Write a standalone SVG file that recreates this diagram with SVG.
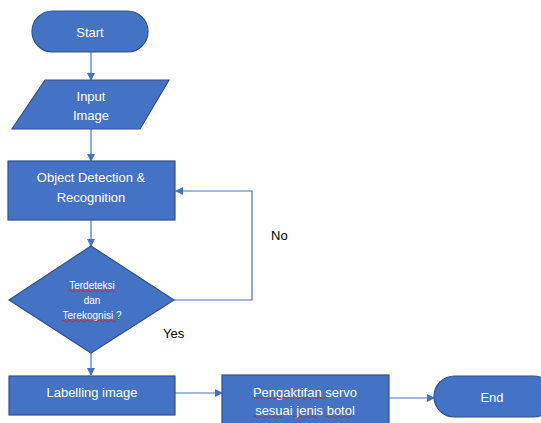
<svg xmlns="http://www.w3.org/2000/svg" width="541" height="423" viewBox="0 0 541 423">
<defs>
<marker id="ah" markerWidth="8" markerHeight="8" refX="7" refY="4" orient="auto" markerUnits="userSpaceOnUse">
<path d="M0,0 L8,4 L0,8 Z" fill="#4472C4"/>
</marker>
<style>
.n{fill:#4472C4;stroke:#2F528F;stroke-width:1.2}
.t{fill:#fff;font-family:"Liberation Sans",Arial,sans-serif;font-size:13px;text-anchor:middle;dominant-baseline:central}
.s{font-size:10px}
.c{fill:none;stroke:#4472C4;stroke-width:1.2}
.l{fill:#000;font-family:"Liberation Sans",Arial,sans-serif;font-size:13px;dominant-baseline:central}
.w{fill:none;stroke:#D02020;stroke-width:0.8}
</style>
</defs>
<rect width="541" height="423" fill="#fff"/>
<g id="connectors">
<line class="c" x1="91" y1="52" x2="91" y2="80" marker-end="url(#ah)"/>
<line class="c" x1="91" y1="129" x2="91" y2="161" marker-end="url(#ah)"/>
<line class="c" x1="91" y1="220" x2="91" y2="246" marker-end="url(#ah)"/>
<polyline class="c" points="174,300 252,300 252,191 176,191" marker-end="url(#ah)"/>
<line class="c" x1="91" y1="353" x2="91" y2="375" marker-end="url(#ah)"/>
<line class="c" x1="175" y1="393" x2="222" y2="393" marker-end="url(#ah)"/>
<line class="c" x1="389" y1="398" x2="434" y2="398" marker-end="url(#ah)"/>
</g>
<g id="start">
<rect class="n" x="32" y="11" width="116" height="41" rx="20.5"/>
<text class="t" x="90" y="32">Start</text>
</g>
<g id="input">
<polygon class="n" points="45,80 169,80 140,129 12,129"/>
<text class="t" x="91" y="96">Input</text>
<text class="t" x="91" y="115">Image</text>
</g>
<g id="detect">
<rect class="n" x="8" y="161" width="167" height="59"/>
<text class="t" x="91" y="177">Object Detection &amp;</text>
<text class="t" x="91" y="197">Recognition</text>
</g>
<g id="decision">
<polygon class="n" points="91,246 174,300 91,353 9,300"/>
<text class="t s" x="92" y="285">Terdeteksi</text>
<text class="t s" x="92" y="300">dan</text>
<text class="t s" x="92" y="315">Terekognisi ?</text>
<path class="w" d="M68,291 q1.5,-1.5 3,0 t3,0 t3,0 t3,0 t3,0 t3,0 t3,0 t3,0 t3,0 t3,0 t3,0 t3,0 t3,0 t3,0 t3,0 t3,0"/>
<path class="w" d="M62,321 q1.5,-1.5 3,0 t3,0 t3,0 t3,0 t3,0 t3,0 t3,0 t3,0 t3,0 t3,0 t3,0 t3,0 t3,0 t3,0 t3,0 t3,0 t3,0 t3,0"/>
</g>
<g id="labelling">
<rect class="n" x="9" y="376" width="166" height="39"/>
<text class="t" x="92" y="392">Labelling image</text>
</g>
<g id="servo">
<rect class="n" x="222" y="375" width="167" height="52"/>
<text class="t" x="305" y="392">Pengaktifan servo</text>
<text class="t" x="305" y="410">sesuai jenis botol</text>
<path class="w" d="M252,398 q1.5,-1.5 3,0 t3,0 t3,0 t3,0 t3,0 t3,0 t3,0 t3,0 t3,0 t3,0 t3,0 t3,0 t3,0 t3,0 t3,0 t3,0 t3,0 t3,0 t3,0 t3,0 t3,0 t3,0 t3,0 t3,0 t3,0"/>
<path class="w" d="M253,417 q1.5,-1.5 3,0 t3,0 t3,0 t3,0 t3,0 t3,0 t3,0 t3,0 t3,0 t3,0"/>
<path class="w" d="M293,417 q1.5,-1.5 3,0 t3,0 t3,0 t3,0 t3,0 t3,0 t3,0 t3,0"/>
<path class="w" d="M325,417 q1.5,-1.5 3,0 t3,0 t3,0 t3,0 t3,0 t3,0 t3,0 t3,0 t3,0"/>
</g>
<g id="end">
<rect class="n" x="434" y="376" width="120" height="41" rx="20.5"/>
<text class="t" x="492" y="397">End</text>
</g>
<g id="labels">
<text class="l" x="271" y="235">No</text>
<text class="l" x="163" y="333">Yes</text>
</g>
</svg>
